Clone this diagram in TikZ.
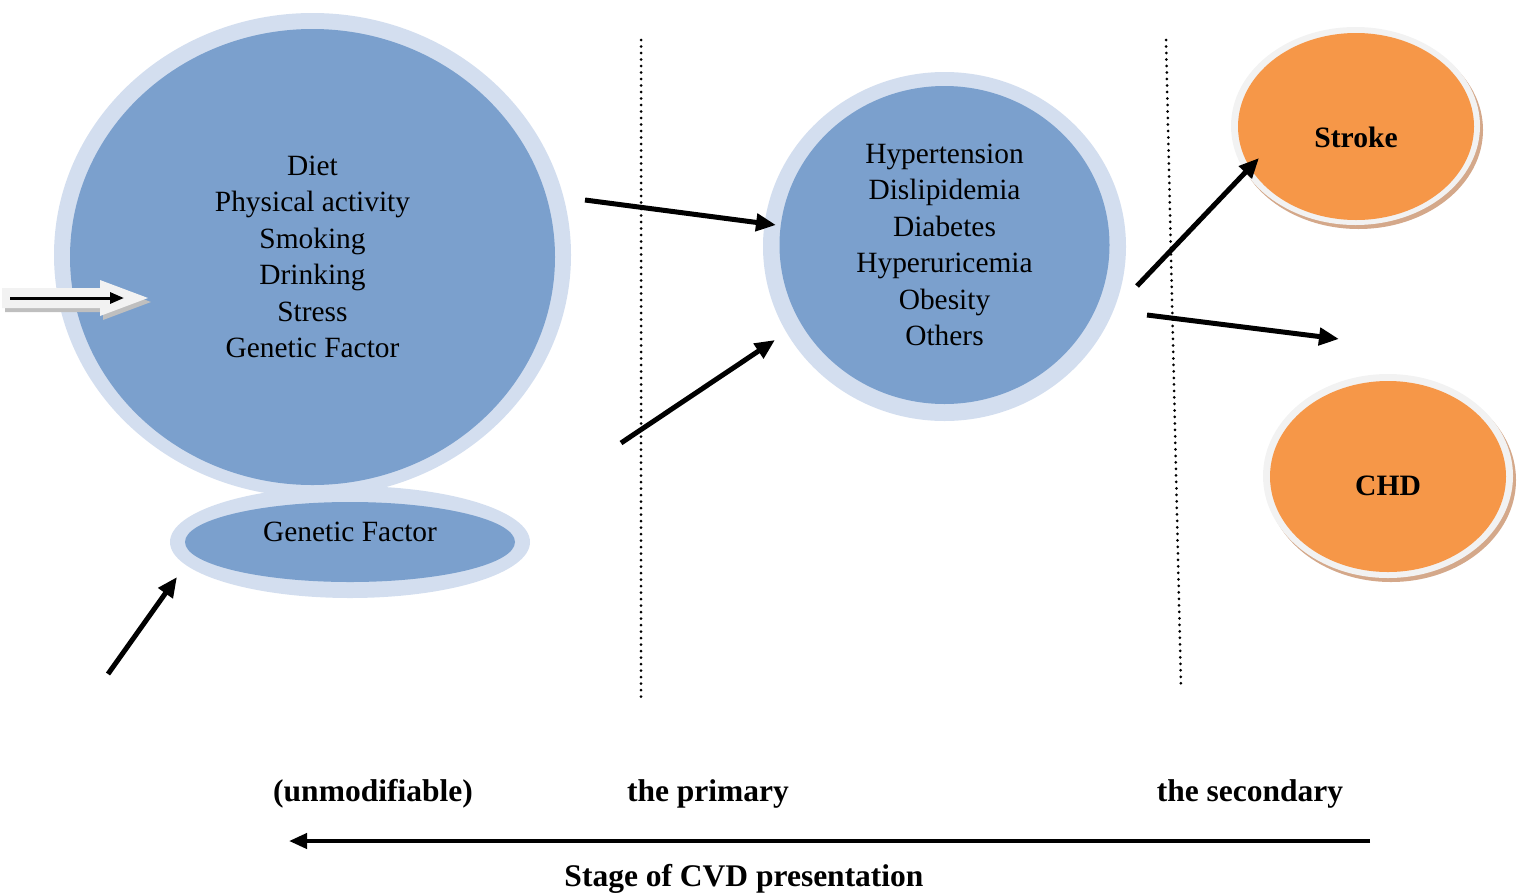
\documentclass[tikz,border=0pt]{standalone}
\usepackage{fontspec}
\setmainfont{Liberation Serif}
\usetikzlibrary{shapes.geometric,arrows.meta}
\definecolor{ringblue}{RGB}{211,222,239}
\definecolor{coreblue}{RGB}{123,160,205}
\definecolor{orangefill}{RGB}{246,151,72}
\definecolor{ringgray}{RGB}{242,242,242}
\definecolor{shadowbrown}{RGB}{212,168,138}
\tikzset{
  ring/.style={ellipse, fill=ringblue, draw=none, inner sep=0pt},
  core/.style={ellipse, fill=coreblue, draw=none, inner sep=0pt, align=center, font=\fontsize{29.4}{36.4}\selectfont},
  orangecore/.style={ellipse, fill=orangefill, draw=none, inner sep=0pt},
  grayring/.style={ellipse, fill=ringgray, draw=none, inner sep=0pt},
  shadowring/.style={ellipse, fill=shadowbrown, draw=none, inner sep=0pt},
  bigarrow/.style={line width=5pt, -{Triangle[length=20pt,width=17pt]}},
  baselabel/.style={font=\bfseries\fontsize{31.5}{34}\selectfont},
  orangelabel/.style={font=\bfseries\fontsize{29.6}{32}\selectfont},
  dotline/.style={line width=3pt, dash pattern=on 0pt off 6.5pt, line cap=round}
}
\begin{document}
\begin{tikzpicture}[x=1pt,y=-1pt]
\useasboundingbox (0,0) rectangle (1525,892);
% big circle
\node[ring, minimum width=517pt, minimum height=484pt] (bigO) at (312.5,255) {};
\node[core, minimum width=485pt, minimum height=456pt] (big) at (312.5,257) {Diet\\Physical activity\\Smoking\\Drinking\\Stress\\Genetic Factor};
% genetic factor ellipse
\node[ring, minimum width=360pt, minimum height=112pt] (genO) at (350,542) {};
\node[core, minimum width=330pt, minimum height=80pt] (gen) at (350,542) {};
\node[font=\fontsize{29.4}{32}\selectfont] (genT) at (350,532) {Genetic Factor};
% middle circle
\node[ring, minimum width=363pt, minimum height=349pt] (midO) at (944.5,246.5) {};
\node[core, minimum width=330pt, minimum height=318pt] (mid) at (944.5,245) {Hypertension\\Dislipidemia\\Diabetes\\Hyperuricemia\\Obesity\\Others};
% stroke
\node[shadowring, minimum width=249pt, minimum height=198pt] (strS) at (1358.5,130) {};
\node[grayring, minimum width=249pt, minimum height=198pt] (strO) at (1355.5,126) {};
\node[orangecore, minimum width=236pt, minimum height=187pt] (stroke) at (1356,126.5) {};
\node[orangelabel] (strokeT) at (1356,137) {Stroke};
% CHD
\node[shadowring, minimum width=250pt, minimum height=204pt] (chdS) at (1391,480) {};
\node[grayring, minimum width=250pt, minimum height=204pt] (chdO) at (1388,476) {};
\node[orangecore, minimum width=236pt, minimum height=191pt] (chd) at (1388,476.5) {};
\node[orangelabel] (chdT) at (1388,486) {CHD};
% dotted lines
\coordinate (d1a) at (641,40);
\coordinate (d1b) at (641,700);
\coordinate (d2a) at (1166,40);
\coordinate (d2b) at (1181,688);
\draw[dotline] (d1a) -- (d1b);
\draw[dotline] (d2a) -- (d2b);
% arrows
\coordinate (a1s) at (585,200);
\coordinate (a1e) at (776,225);
\coordinate (a2s) at (621,443);
\coordinate (a2e) at (775,340);
\coordinate (a3s) at (108,674);
\coordinate (a3e) at (177,577);
\coordinate (a4s) at (1137,286);
\coordinate (a4e) at (1259,158);
\coordinate (a5s) at (1147,315);
\coordinate (a5e) at (1339,339);
\draw[bigarrow] (a1s) -- (a1e);
\draw[bigarrow] (a2s) -- (a2e);
\draw[bigarrow] (a3s) -- (a3e);
\draw[bigarrow] (a4s) -- (a4e);
\draw[bigarrow] (a5s) -- (a5e);
% left hollow arrow
\fill[black!25] (5,292) -- (103,292) -- (103,284) -- (151,302) -- (103,320) -- (103,312) -- (5,312) -- cycle;
\fill[ringgray] (2,288) -- (100,288) -- (100,280) -- (148,298) -- (100,316) -- (100,308) -- (2,308) -- cycle;
\coordinate (la) at (10,298);
\coordinate (lb) at (124,298);
\draw[line width=3pt, -{Triangle[length=14pt,width=11pt]}] (la) -- (lb);
% bottom labels
\node[baselabel] (unmod) at (373,794) {(unmodifiable)};
\node[baselabel] (prim) at (708,794) {the primary};
\node[baselabel] (sec) at (1250,794) {the secondary};
\coordinate (bs) at (1370,841);
\coordinate (be) at (289,841);
\draw[line width=4pt, -{Triangle[length=18pt,width=15pt]}] (bs) -- (be);
\node[baselabel] (stage) at (744,879) {Stage of CVD presentation};
\end{tikzpicture}
\end{document}
